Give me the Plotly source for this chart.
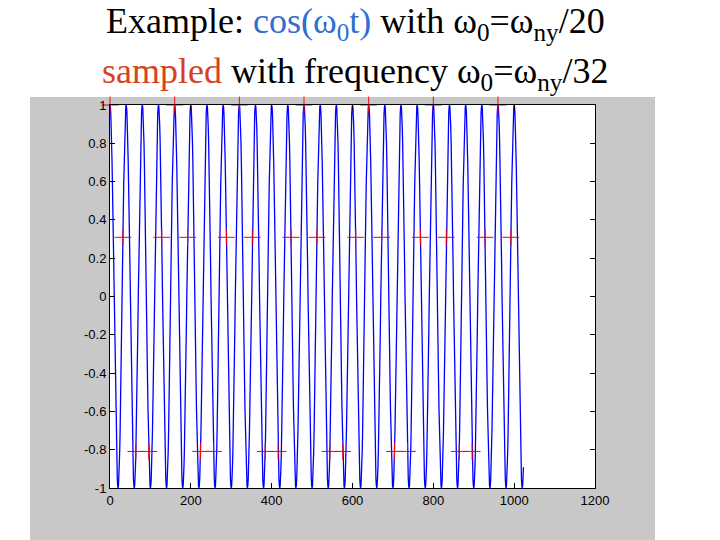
import numpy as np
import plotly.graph_objects as go

# signal: cos(w0 t), period 40 samples, sampled every 32
n_points = 1024
period = 40
sample_step = 32
t = np.arange(n_points)
y = np.cos(2 * np.pi * t / period)
ts = t[::sample_step]
ys = y[::sample_step]

x_ticks = [0, 200, 400, 600, 800, 1000, 1200]
y_ticks = [-1, -0.8, -0.6, -0.4, -0.2, 0, 0.2, 0.4, 0.6, 0.8, 1]

fig = go.Figure()
fig.add_trace(go.Scatter(x=t, y=y, mode="lines", line=dict(color="#0000ff", width=1.3)))
fig.add_trace(go.Scatter(x=ts, y=ys, mode="markers", cliponaxis=False,
                         marker=dict(symbol="cross-thin", size=12, line=dict(color="#ff0000", width=1))))

off = 8  # page body offset
L, R, T, B = 110 - off, 595 - off, 105 - off, 488 - off
w = R - L
h = B - T
# gray figure window behind the axes
fig.add_shape(type="rect", xref="paper", yref="paper", layer="below",
              x0=(30 - off - L) / w, x1=(655 - off - L) / w, y0=(B - 540) / h, y1=(B - 97 + off) / h,
              fillcolor="#c8c8c8", line_width=0)
fig.add_shape(type="rect", xref="paper", yref="paper", layer="below",
              x0=0, x1=1, y0=0, y1=1, fillcolor="white", line_width=0)

ax = dict(showgrid=False, zeroline=False, showline=True, linecolor="black", linewidth=1,
          mirror="ticks", ticks="inside", ticklen=5, tickcolor="black",
          tickfont=dict(family="Arial, Liberation Sans", size=13, color="black"))
fig.update_xaxes(range=[0, 1200], tickvals=x_ticks, **ax)
fig.update_yaxes(range=[-1, 1], tickvals=y_ticks, ticktext=[str(v) for v in y_ticks], **ax)

serif = dict(family="Liberation Serif, Times New Roman", size=36, color="black")
cx = (355 - off - L) / w
fig.add_annotation(xref="paper", yref="paper", x=cx, y=(B - 24 + off) / h, yanchor="middle", showarrow=False,
                   text="Example: <span style='color:#2f6fd0'>cos(ω<sub>0</sub>t)</span> with ω<sub>0</sub>=ω<sub>ny</sub>/20",
                   font=serif)
fig.add_annotation(xref="paper", yref="paper", x=cx, y=(B - 73 + off) / h, yanchor="middle", showarrow=False,
                   text="<span style='color:#d9411e'>sampled</span> with frequency ω<sub>0</sub>=ω<sub>ny</sub>/32",
                   font=serif)

fig.update_layout(width=720, height=540, showlegend=False,
                  margin=dict(l=L, r=720 - R, t=T, b=540 - B),
                  paper_bgcolor="white", plot_bgcolor="white")
fig.write_html("out.html")
